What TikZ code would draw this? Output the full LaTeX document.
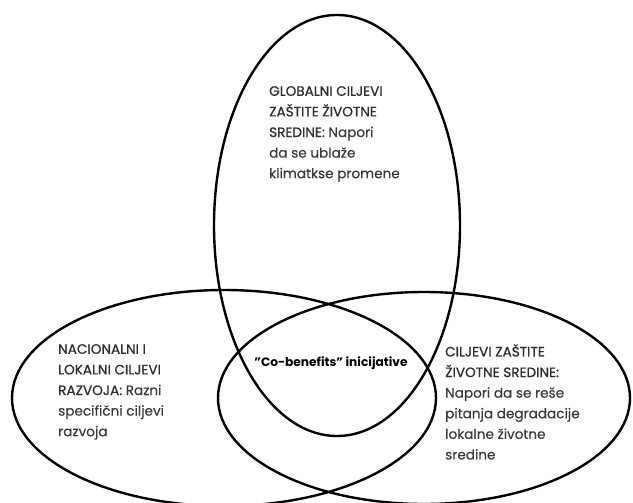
\documentclass[tikz,border=0pt]{standalone}
\usepackage{fontspec}
\setmainfont{Poppins}
\newfontfamily\headfont[FakeBold=0.8]{Poppins}
\newfontfamily\descfont[FakeBold=0.3]{Poppins}
\definecolor{txt}{HTML}{2E2E2E}
\definecolor{desc}{HTML}{3A3A3A}
\newcommand{\hd}[1]{{\headfont\color{txt}#1}}
\tikzset{
  venn/.style={line width=2.4pt, draw=black},
  lbl/.style={inner sep=0pt, anchor=north west, align=left, text=desc,
    font=\descfont\fontsize{13.6}{20.6}\selectfont},
  mid/.style={inner sep=0pt, anchor=center, text=black,
    font=\fontsize{12.2}{14}\selectfont\bfseries}
}
\begin{document}
\begin{tikzpicture}[x=1pt,y=-1pt]
\useasboundingbox (0,0) rectangle (633,503);
\fill[white] (0,0) rectangle (633,503);
\clip (0,0) rectangle (633,503);
\draw[venn] (337,225.5) ellipse [x radius=123, y radius=210.5];
\draw[venn] (224,398) ellipse [x radius=212, y radius=108];
\draw[venn] (424,398) ellipse [x radius=206, y radius=106];
\node[lbl] (global) at (269,86) {\hd{GLOBALNI CILJEVI}\\\hd{ZAŠTITE ŽIVOTNE}\\\hd{SREDINE:} Napori\\da se ublaže\\klimatkse promene};
\node[lbl] (nat) at (58,344) {\hd{NACIONALNI I}\\\hd{LOKALNI CILJEVI}\\\hd{RAZVOJA:} Razni\\specifični ciljevi\\razvoja};
\node[lbl] (env) at (445,344) {\hd{CILJEVI ZAŠTITE}\\\hd{ŽIVOTNE SREDINE:}\\Napori da se reše\\pitanja degradacije\\lokalne životne\\sredine};
\node[mid] (cob) at (331,363) {"Co-benefits" inicijative};
\end{tikzpicture}
\end{document}
